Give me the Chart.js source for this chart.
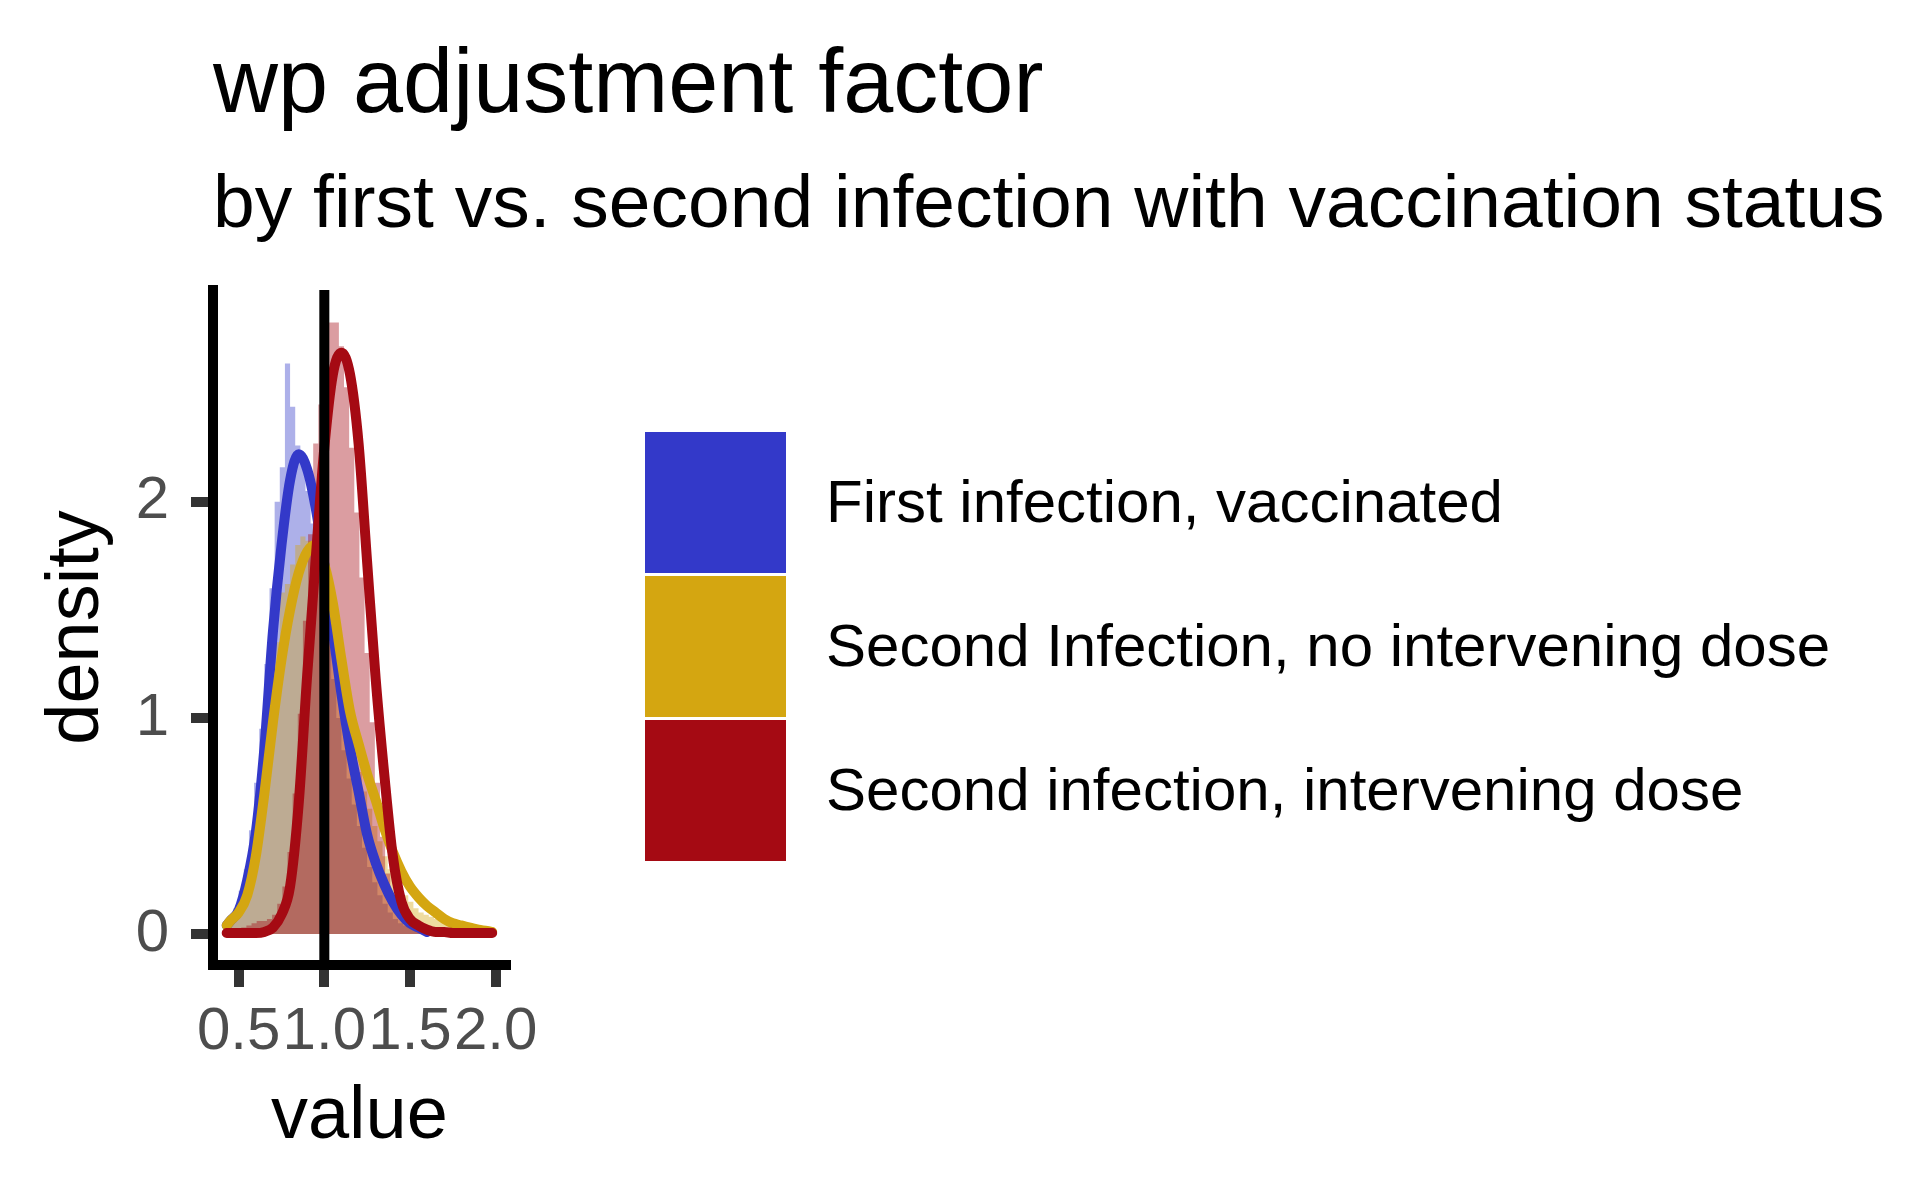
<!DOCTYPE html>
<html>
<head>
<meta charset="utf-8">
<title>wp adjustment factor</title>
<script src="https://cdn.jsdelivr.net/npm/chart.js@4.4.1/dist/chart.umd.min.js"></script>
<style>
  html,body{margin:0;padding:0;background:#fff;}
  canvas{display:block;}
</style>
</head>
<body>
<canvas id="c" width="1920" height="1200"></canvas>
<script>
// ── data ──
const TITLE = 'wp adjustment factor';
const SUBTITLE = 'by first vs. second infection with vaccination status';
const GROUPS = ['First infection, vaccinated', 'Second Infection, no intervening dose', 'Second infection, intervening dose'];
const COLORS = ['#3339C9', '#D4A611', '#A50A13'];
const FILLS  = ['rgba(51,57,201,0.4)', 'rgba(212,166,17,0.4)', 'rgba(165,10,19,0.4)'];

// histograms (density scale), bin width 0.03, first left edge per group
const BIN_W = 0.03;
const HIST_START = [0.44, 0.44, 0.455];
const HIST_BLUE = [0.04,0.07,0.12,0.20,0.30,0.48,0.70,0.95,1.25,1.60,2.00,2.16,2.64,2.44,2.26,2.21,2.05,1.90,1.72,1.55,1.35,1.18,1.00,0.85,0.72,0.60,0.50,0.40,0.31,0.24,0.18,0.14,0.10,0.07,0.05,0.04,0.03,0.02,0.01];
const HIST_GOLD = [0.05,0.08,0.12,0.15,0.25,0.38,0.52,0.75,0.95,1.15,1.35,1.58,1.62,1.71,1.80,1.84,1.82,1.80,1.74,1.77,1.55,1.38,1.22,1.05,0.95,0.85,0.75,0.66,0.58,0.50,0.43,0.36,0.30,0.26,0.22,0.18,0.15,0.12,0.10,0.09,0.08,0.07,0.06,0.05,0.04,0.04,0.03,0.03,0.02,0.02,0.02,0.01];
const HIST_RED  = [0,0,0.02,0.03,0.04,0.05,0.06,0.06,0.07,0.09,0.14,0.22,0.38,0.65,1.02,1.45,1.85,2.27,2.45,2.72,2.83,2.83,2.72,2.53,2.25,1.95,1.65,1.30,0.98,0.70,0.45,0.28,0.18,0.12,0.09,0.07,0.06,0.05,0.03,0.02,0.01,0.01,0.01,0,0.01,0,0,0.01,0,0,0.01];

// density curves
const DENS_X    = [0.43,0.45,0.50,0.55,0.60,0.65,0.70,0.75,0.80,0.85,0.90,0.95,1.00,1.05,1.10,1.15,1.20,1.25,1.30,1.35,1.40,1.45,1.50,1.55,1.60,1.65,1.70,1.75,1.80,1.85,1.90,1.95,1.98];
const DENS_BLUE = [0.04,0.06,0.11,0.25,0.47,0.86,1.40,1.80,2.10,2.22,2.15,1.97,1.71,1.40,1.11,0.86,0.66,0.46,0.33,0.23,0.15,0.09,0.05,0.03,0.01];
const DENS_GOLD = [0.04,0.06,0.10,0.18,0.36,0.65,0.98,1.27,1.50,1.67,1.77,1.80,1.71,1.53,1.27,1.03,0.88,0.74,0.62,0.49,0.38,0.29,0.22,0.17,0.13,0.10,0.07,0.05,0.04,0.03,0.02,0.015,0.01];
const DENS_RED  = [0.005,0.005,0.005,0.005,0.005,0.01,0.03,0.09,0.22,0.60,1.20,1.74,2.25,2.59,2.69,2.59,2.27,1.72,1.18,0.74,0.36,0.15,0.07,0.04,0.02,0.01,0.01,0.005,0.005,0.005,0.005,0.005,0.005];

const VLINE_X = 1.0;
const X_TICKS = [0.5, 1.0, 1.5, 2.0];
const Y_TICKS = [0, 1, 2];
const X_RANGE = [0.350, 2.059];
const Y_RANGE = [-0.143, 2.98];

const FONT = '"Liberation Sans", Arial, Helvetica, sans-serif';

// ── helpers ──
function histPts(start, vals){
  const pts = vals.map((v,i)=>({x: +(start + i*BIN_W).toFixed(4), y: v}));
  pts.push({x: +(start + vals.length*BIN_W).toFixed(4), y: 0});
  return pts;
}
const densPts = vals => vals.map((v,i)=>({x: DENS_X[i], y: v}));

const HISTS = [HIST_BLUE, HIST_GOLD, HIST_RED];
const DENS  = [DENS_BLUE, DENS_GOLD, DENS_RED];

const datasets = [];
// histograms underneath (blue drawn first)
HISTS.forEach((h,i)=>datasets.push({
  label: GROUPS[i]+' (hist)', data: histPts(HIST_START[i], h),
  stepped: 'after', fill: 'origin', backgroundColor: FILLS[i], borderColor: 'rgba(0,0,0,0)', borderWidth: 0,
  pointRadius: 0, order: 6 - i
}));
// density lines
DENS.forEach((d,i)=>datasets.push({
  label: GROUPS[i], data: densPts(d),
  borderColor: COLORS[i], borderWidth: 10, fill: false, pointRadius: 0,
  cubicInterpolationMode: 'monotone', borderCapStyle: 'round', borderJoinStyle: 'round',
  order: 3 - i
}));
// reference line at 1
datasets.push({
  label: 'ref', data: [{x: VLINE_X, y: Y_RANGE[0]}, {x: VLINE_X, y: Y_RANGE[1]}],
  borderColor: '#000', borderWidth: 10, pointRadius: 0, fill: false, order: 0
});

// ── titles + legend, ggplot-style ──
const ggDecor = {
  id: 'ggDecor',
  beforeDraw(chart){
    const c = chart.ctx;
    c.save(); c.fillStyle = '#fff'; c.fillRect(0, 0, chart.width, chart.height); c.restore();
  },
  afterDraw(chart){
    const c = chart.ctx, a = chart.chartArea;
    c.save();
    c.fillStyle = '#000'; c.textAlign = 'left'; c.textBaseline = 'alphabetic';
    c.font = '90px ' + FONT;
    c.fillText(TITLE, a.left, 112);
    c.font = '75px ' + FONT;
    c.fillText(SUBTITLE, a.left, 227);

    // legend keys
    const kx = 645, ky = 432, ks = 141, gap = 3;
    c.font = '60px ' + FONT; c.textBaseline = 'middle';
    GROUPS.forEach((g,i)=>{
      const y = ky + i*(ks + gap);
      c.fillStyle = COLORS[i];
      c.fillRect(kx, y, ks, ks);
      c.fillStyle = '#000';
      c.fillText(g, 826, y + ks/2 + 3);
    });
    c.restore();
  }
};

const tickGrid = {display: true, drawOnChartArea: false, drawTicks: true, tickLength: 22, lineWidth: 10, tickWidth: 10, tickColor: '#333333'};
const axisBorder = {display: true, color: '#000', width: 10};

new Chart(document.getElementById('c'), {
  type: 'line',
  data: {datasets},
  options: {
    responsive: false, animation: false, devicePixelRatio: 1, events: [],
    layout: {padding: {left: 0, top: 290, right: 1920 - 505.7, bottom: 0}},
    plugins: {legend: {display: false}, title: {display: false}, tooltip: {enabled: false}},
    scales: {
      x: {
        type: 'linear', min: X_RANGE[0], max: X_RANGE[1],
        afterBuildTicks: s => { s.ticks = X_TICKS.map(v=>({value: v})); },
        afterFit: s => { s.height = 235; },
        border: axisBorder, grid: tickGrid,
        ticks: {autoSkip: false, maxRotation: 0, minRotation: 0, padding: 9, color: '#4D4D4D',
                font: {family: FONT, size: 60}, callback: v => Number(v).toFixed(1)},
        title: {display: true, text: 'value', color: '#000', font: {family: FONT, size: 74}, padding: {top: 0, bottom: 38}}
      },
      y: {
        type: 'linear', min: Y_RANGE[0], max: Y_RANGE[1],
        afterBuildTicks: s => { s.ticks = Y_TICKS.map(v=>({value: v})); },
        afterFit: s => { s.width = 213; },
        border: axisBorder, grid: tickGrid,
        ticks: {autoSkip: false, padding: 22, color: '#4D4D4D',
                font: {family: FONT, size: 60}, callback: v => String(v)},
        title: {display: true, text: 'density', color: '#000', font: {family: FONT, size: 74}, padding: {top: 33, bottom: 0}}
      }
    }
  },
  plugins: [ggDecor]
});
</script>
</body>
</html>
